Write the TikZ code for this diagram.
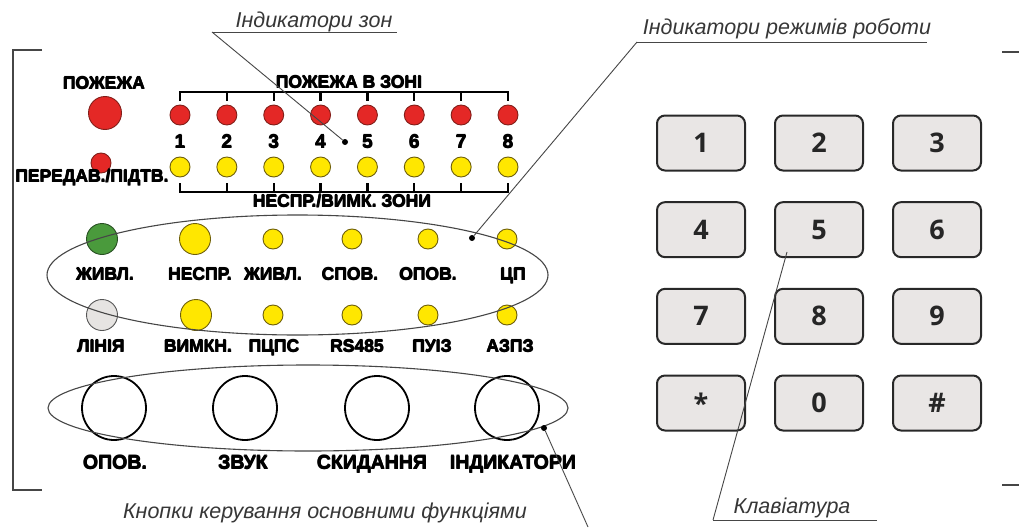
\documentclass[tikz,border=0pt]{standalone}
\usepackage{fontspec}
\setmainfont{Liberation Sans}
\newfontfamily\keyfont{Open Sans}
\newfontfamily\heavy{Liberation Sans Bold}
\usetikzlibrary{shapes.geometric}
\newcommand\hvy[1]{\leavevmode\rlap{#1}\rlap{\raisebox{0.45pt}{\kern0.4pt#1}}\kern0.8pt#1}
\definecolor{ledred}{RGB}{228,40,38}
\definecolor{ledredline}{RGB}{130,30,25}
\definecolor{ledyel}{RGB}{255,231,0}
\definecolor{ledyelline}{RGB}{110,95,10}
\definecolor{ledgreen}{RGB}{74,154,60}
\definecolor{ledgreenline}{RGB}{40,80,35}
\definecolor{ledgray}{RGB}{230,228,226}
\definecolor{ledgrayline}{RGB}{85,85,85}
\definecolor{keyfill}{RGB}{233,230,229}
\definecolor{keyline}{RGB}{40,40,40}
\definecolor{capgray}{RGB}{55,55,55}
\definecolor{linegray}{RGB}{70,70,70}
\begin{document}
\begin{tikzpicture}[x=1pt,y=-1pt,
  lab/.style={font=\heavy\fontsize{17.5}{17.5}\selectfont, text=black, inner sep=0pt, anchor=base},
  blab/.style={font=\heavy\fontsize{19.5}{19.5}\selectfont, text=black, inner sep=0pt, anchor=base},
  numlab/.style={font=\heavy\fontsize{19}{19}\selectfont, text=black, inner sep=0pt, anchor=base},
  capt/.style={font=\fontsize{21.5}{21.5}\selectfont\itshape, text=capgray, inner sep=0pt, anchor=base},
  led/.style={circle, inner sep=0pt, line width=0.9pt},
  redled/.style={led, fill=ledred, draw=ledredline, minimum size=20pt},
  yelled/.style={led, fill=ledyel, draw=ledyelline, minimum size=20pt},
  bigyel/.style={led, fill=ledyel, draw=ledyelline, minimum size=31pt},
  greenled/.style={led, fill=ledgreen, draw=ledgreenline, minimum size=31pt},
  grayled/.style={led, fill=ledgray, draw=ledgrayline, minimum size=31pt},
  btn/.style={circle, draw=black, line width=1.8pt, minimum size=64pt, inner sep=0pt},
  keybox/.style={rectangle, rounded corners=8pt, draw=keyline, line width=2pt, fill=keyfill,
    minimum width=88pt, minimum height=55pt, inner sep=0pt,
    font=\keyfont\bfseries\fontsize{27}{27}\selectfont, text=black!85},
  brk/.style={draw=black, line width=2.4pt},
  framel/.style={draw=linegray, line width=1.5pt},
  leader/.style={draw=linegray, line width=0.9pt},
  grp/.style={ellipse, draw=linegray, line width=1.1pt, inner sep=0pt},
  dotpt/.style={circle, fill=black, inner sep=0pt, minimum size=6pt}
]
\useasboundingbox (0,0) rectangle (1019,527);
\fill[white] (0,0) rectangle (1019,527);

% frame corners
\draw[framel] (42,50) -- (13,50) -- (13,490) -- (42,490);
\draw[framel] (1002,52) -- (1019,52);
\draw[framel] (1002,485) -- (1019,485);

% fire indicators
\node[lab] (tfire) at (104,89) {\hvy{ПОЖЕЖА}};
\node[led, fill=ledred, draw=ledredline, minimum size=33pt] (fire) at (105,113) {};
\node[redled] (trans) at (101,163) {};
\node[lab] (ttrans) at (92,182) {\hvy{ПЕРЕДАВ./ПІДТВ.}};

% zone brackets
\draw[brk] (180,101) -- (180,92) -- (508,92) -- (508,101);
\draw[brk] (180,183) -- (180,192) -- (508,192) -- (508,183);
\foreach \i in {2,...,7} {
  \pgfmathsetmacro\xx{180+(\i-1)*46.857}
  \draw[brk] (\xx,92) -- (\xx,101);
  \draw[brk] (\xx,183) -- (\xx,192);
}
\node[lab] (tzfire) at (349,88) {\hvy{ПОЖЕЖА В ЗОНІ}};
\node[lab] (tzfault) at (342,207) {\hvy{НЕСПР./ВИМК. ЗОНИ}};
\foreach \i in {1,...,8} {
  \pgfmathsetmacro\xx{180+(\i-1)*46.857}
  \node[redled] (zr\i) at (\xx,115) {};
  \node[yelled] (zy\i) at (\xx,167) {};
  \node[numlab] (zn\i) at (\xx,148) {\hvy{\i}};
}

% mode indicators row 1
\node[greenled] (m1) at (102,239) {};
\node[bigyel] (m2) at (195,239) {};
\node[yelled] (m3) at (273,239) {};
\node[yelled] (m4) at (352,239) {};
\node[yelled] (m5) at (428,239) {};
\node[yelled] (m6) at (507,239) {};
\node[lab] (tm1) at (105,280) {\hvy{ЖИВЛ.}};
\node[lab] (tm2) at (200,280) {\hvy{НЕСПР.}};
\node[lab] (tm3) at (273,280) {\hvy{ЖИВЛ.}};
\node[lab] (tm4) at (350,280) {\hvy{СПОВ.}};
\node[lab] (tm5) at (428,280) {\hvy{ОПОВ.}};
\node[lab] (tm6) at (513,280) {\hvy{ЦП}};
% row 2
\node[grayled] (n1) at (102,315) {};
\node[bigyel] (n2) at (196,315) {};
\node[yelled] (n3) at (273,315) {};
\node[yelled] (n4) at (352,315) {};
\node[yelled] (n5) at (428,315) {};
\node[yelled] (n6) at (507,315) {};
\node[lab] (tn1) at (101,352) {\hvy{ЛІНІЯ}};
\node[lab] (tn2) at (198,352) {\hvy{ВИМКН.}};
\node[lab] (tn3) at (274,352) {\hvy{ПЦПС}};
\node[lab] (tn4) at (357,352) {\hvy{RS485}};
\node[lab] (tn5) at (432,352) {\hvy{ПУІЗ}};
\node[lab] (tn6) at (510,352) {\hvy{АЗПЗ}};

% buttons
\node[btn] (b1) at (114,408) {};
\node[btn] (b2) at (245,408) {};
\node[btn] (b3) at (377,408) {};
\node[btn] (b4) at (507,408) {};
\node[blab] (tb1) at (115,469) {\hvy{ОПОВ.}};
\node[blab] (tb2) at (243,469) {\hvy{ЗВУК}};
\node[blab] (tb3) at (372,469) {\hvy{СКИДАННЯ}};
\node[blab] (tb4) at (513,469) {\hvy{ІНДИКАТОРИ}};

% group ellipses
\node[grp, minimum width=501pt, minimum height=120pt] (g1) at (297.5,275) {};
\node[grp, minimum width=520pt, minimum height=86pt] (g2) at (308,408) {};

% keypad
\foreach \c/\r/\t/\nm in {0/0/1/k1, 1/0/2/k2, 2/0/3/k3, 0/1/4/k4, 1/1/5/k5, 2/1/6/k6,
  0/2/7/k7, 1/2/8/k8, 2/2/9/k9, 0/3/*/kstar, 1/3/0/k0, 2/3/\#/khash} {
  \node[keybox] (\nm) at ({701+118*\c},{143+86.67*\r}) {\t};
}

% captions and leaders
\node[capt] (cz) at (314,28) {Індикатори зон};
\node[dotpt] (dz) at (345,142) {};
\coordinate (uz1) at (212,32);
\coordinate (uz2) at (397,32);
\draw[leader] (uz1) -- (uz2);
\draw[leader] (uz1) -- (dz);

\node[capt] (cm) at (787,35) {Індикатори режимів роботи};
\node[dotpt] (dm) at (472,238) {};
\coordinate (um1) at (637,42);
\coordinate (um2) at (927,42);
\draw[leader] (um1) -- (um2);
\draw[leader] (um1) -- (dm);

\node[capt] (cb) at (325,518) {Кнопки керування основними функціями};
\node[dotpt] (db) at (544,428) {};
\coordinate (ub) at (588,527);
\draw[leader] (db) -- (ub);

\node[capt] (ck) at (792,513) {Клавіатура};
\coordinate (uk1) at (713,520);
\coordinate (uk2) at (877,520);
\coordinate (pk) at (787,252);
\draw[leader] (uk1) -- (uk2);
\draw[leader] (uk1) -- (pk);
\end{tikzpicture}
\end{document}
